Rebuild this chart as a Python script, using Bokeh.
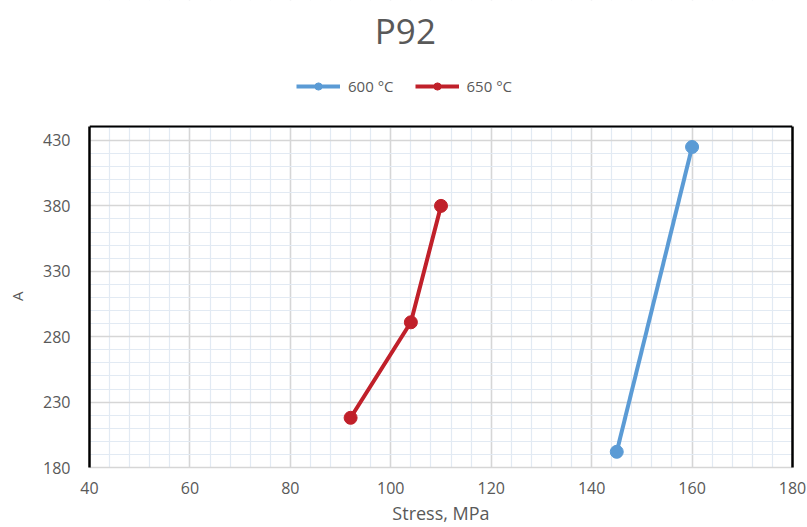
from bokeh.plotting import figure
from bokeh.models import (Legend, LegendItem, FixedTicker, Span, Range1d,
                          BoxAnnotation, Label, LinearAxis)
from bokeh.embed import file_html
from bokeh.resources import INLINE

# Data
stress_600 = [145, 160]
a_600 = [192, 425]
stress_650 = [92, 104, 110]
a_650 = [218, 291, 380]
x_ticks = [40, 60, 80, 100, 120, 140, 160, 180]
y_ticks = [180, 230, 280, 330, 380, 430]
x_minor = list(range(40, 181, 4))
y_minor = list(range(180, 441, 10))

Y_TOP = 440.7      # top of the plotting area (data units)
Y_END = 537.0      # range end, leaves room for title and legend

BLUE = "#5B9BD5"
RED = "#C0202A"
GRAY_TXT = "#595959"
FONT = "Open Sans"

p = figure(width=807, height=527, output_backend="svg", toolbar_location=None,
           x_range=Range1d(40, 180), y_range=Range1d(180, Y_END),
           min_border_left=89, min_border_right=15, min_border_top=0,
           min_border_bottom=60)
p.outline_line_color = None
p.background_fill_color = "white"
p.border_fill_color = "white"

p.xaxis.ticker = FixedTicker(ticks=x_ticks, minor_ticks=x_minor)
p.yaxis.ticker = FixedTicker(ticks=y_ticks, minor_ticks=y_minor)
p.yaxis.bounds = (180, Y_TOP)

p.xgrid.grid_line_color = "#D6D6D6"
p.ygrid.grid_line_color = "#D6D6D6"
p.xgrid.minor_grid_line_color = "#E2EAF3"
p.ygrid.minor_grid_line_color = "#E2EAF3"
p.xgrid.grid_line_width = 1.5
p.ygrid.grid_line_width = 1.5
p.xgrid.minor_grid_line_width = 1.2
p.ygrid.minor_grid_line_width = 1.2

for ax in (p.xaxis, p.yaxis):
    ax.major_tick_line_color = None
    ax.minor_tick_line_color = None
    ax.major_tick_out = 0
    ax.major_tick_in = 0
    ax.minor_tick_out = 0
    ax.major_label_text_color = GRAY_TXT
    ax.major_label_text_font = FONT
    ax.major_label_text_font_size = "16px"
    ax.axis_label_text_color = GRAY_TXT
    ax.axis_label_text_font = FONT
    ax.axis_label_text_font_style = "normal"

p.xaxis.axis_line_color = "#D6D6D6"
p.xaxis.axis_line_width = 1.5
p.yaxis.axis_line_color = "black"
p.yaxis.axis_line_width = 2.5
p.xaxis.major_label_standoff = 14
p.yaxis.major_label_standoff = 19
p.xaxis.axis_label = "Stress, MPa"
p.xaxis.axis_label_text_font_size = "18px"
p.xaxis.axis_label_standoff = 4
# trailing no-break spaces shift the "A" down to the middle of the plotting box
p.yaxis.axis_label = "A" + "\u00a0" * 32
p.yaxis.axis_label_text_font_size = "15px"
p.yaxis.axis_label_standoff = 13

right_axis = LinearAxis(ticker=FixedTicker(ticks=[]), bounds=(180, Y_TOP),
                        axis_line_color="black", axis_line_width=2.5,
                        major_tick_line_color=None, minor_tick_line_color=None,
                        major_tick_out=0, minor_tick_out=0, major_label_standoff=0)
p.add_layout(right_axis, "right")

r1 = p.line(stress_600, a_600, line_color=BLUE, line_width=4)
c1 = p.scatter(stress_600, a_600, size=13, fill_color=BLUE, line_color=BLUE)
r2 = p.line(stress_650, a_650, line_color=RED, line_width=4)
c2 = p.scatter(stress_650, a_650, size=13, fill_color=RED, line_color=RED)

# white area above the plotting box (title / legend zone)
p.add_layout(BoxAnnotation(bottom=Y_TOP, fill_color="white", fill_alpha=1,
                           line_color=None))
p.add_layout(Span(location=Y_TOP, dimension="width", line_color="black",
                  line_width=2))

p.add_layout(Label(x=102.9, y=514.0, text="P92", text_font=FONT,
                   text_font_size="35px", text_color=GRAY_TXT,
                   text_align="center", text_baseline="middle"))

legend = Legend(items=[LegendItem(label="600 °C", renderers=[r1, c1]),
                       LegendItem(label="650 °C", renderers=[r2, c2])],
                orientation="horizontal", location=(207, 371),
                label_text_color=GRAY_TXT, label_text_font=FONT,
                label_text_font_size="15px", glyph_width=44, glyph_height=18,
                spacing=21, border_line_color=None, background_fill_alpha=0,
                padding=0, margin=0, label_standoff=8)
p.add_layout(legend, "center")

open("out.html", "w").write(file_html(p, INLINE))
